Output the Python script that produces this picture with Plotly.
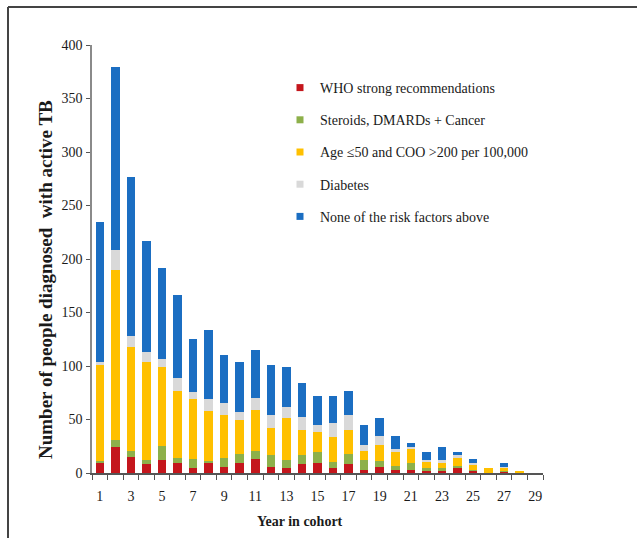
import plotly.graph_objects as go

# Year in cohort
years = list(range(1, 30))

# Number of people diagnosed with active TB, by risk group (stacked bottom to top)
who_strong = [10, 24, 15, 8, 12, 9, 5, 9, 6, 9, 13, 6, 5, 8, 9, 5, 8, 3, 6, 3, 3, 2, 2, 5, 2, 0, 1, 0, 0]
steroids_dmards_cancer = [1, 7, 6, 4, 13, 5, 8, 2, 8, 9, 8, 11, 7, 9, 11, 5, 10, 9, 5, 4, 6, 3, 3, 2, 1, 0, 1, 0, 0]
age_coo = [90, 159, 97, 92, 74, 63, 56, 47, 40, 32, 38, 25, 39, 23, 18, 24, 22, 9, 15, 13, 13, 5, 4, 7, 5, 5, 3, 2, 0]
diabetes = [3, 18, 10, 9, 8, 12, 7, 11, 11, 7, 11, 12, 11, 12, 7, 13, 14, 5, 9, 2, 2, 2, 3, 3, 1, 0, 1, 0, 0]
none_above = [131, 171, 149, 104, 85, 77, 49, 65, 45, 47, 45, 47, 37, 32, 27, 25, 23, 19, 16, 13, 4, 8, 12, 3, 4, 0, 3, 0, 0]

y_ticks = [0, 50, 100, 150, 200, 250, 300, 350, 400]
x_ticks = list(range(1, 30, 2))

series = [
    ("WHO strong recommendations", who_strong, "#C4161C"),
    ("Steroids, DMARDs + Cancer", steroids_dmards_cancer, "#8DB04A"),
    ("Age \u226450 and COO >200 per 100,000", age_coo, "#FFC000"),
    ("Diabetes", diabetes, "#D9D9D9"),
    ("None of the risk factors above", none_above, "#1B6EC2"),
]

SERIF = "Liberation Serif, Times New Roman, serif"

fig = go.Figure()
for name, vals, color in series:
    fig.add_trace(go.Bar(
        x=years, y=vals, name=name, marker=dict(color=color, line=dict(width=0)),
        showlegend=False,
    ))
# compact square swatches for the legend
for name, vals, color in series:
    fig.add_trace(go.Scatter(
        x=[None], y=[None], mode="markers", name=name, legendgroup=name,
        marker=dict(symbol="square", size=7, color=color),
    ))

W, H = 637, 538
ML, MR, MT, MB = 92, 94, 45, 65
pw, ph = W - ML - MR, H - MT - MB

def px_x(p):
    return (p - ML) / pw

def px_y(p):
    return (H - MB - p) / ph

fig.update_layout(
    width=W, height=H,
    margin=dict(l=ML, r=MR, t=MT, b=MB, pad=0),
    paper_bgcolor="white", plot_bgcolor="white",
    barmode="stack", bargap=0.45,
    font=dict(family=SERIF, size=14, color="#1a1a1a"),
    legend=dict(
        x=px_x(280), y=px_y(72), xanchor="left", yanchor="top",
        traceorder="grouped", tracegroupgap=11, itemwidth=30,
        font=dict(family=SERIF, size=14, color="#1a1a1a"),
        bgcolor="rgba(0,0,0,0)",
    ),
    xaxis=dict(
        range=[0.5, 29.5], tickvals=x_ticks, ticktext=[str(v) for v in x_ticks],
        ticks="", showgrid=False, zeroline=False,
        showline=True, linecolor="#555555", linewidth=1.5,
        minor=dict(ticks="outside", tick0=0.5, dtick=1, ticklen=5, tickcolor="#555555", tickwidth=1, showgrid=False),
        tickfont=dict(family=SERIF, size=14, color="#1a1a1a"),
        ticklabelstandoff=9,
    ),
    yaxis=dict(
        range=[0, 400], tickvals=y_ticks, showgrid=False, zeroline=False,
        showline=True, linecolor="#8a8a8a", linewidth=1.5,
        ticks="outside", ticklen=4, tickcolor="#555555",
        tickfont=dict(family=SERIF, size=14, color="#1a1a1a"),
        ticklabelstandoff=1,
    ),
    annotations=[
        dict(text="<b>Number of people diagnosed \u00a0with active TB</b>", textangle=-90,
             xref="paper", yref="paper", x=px_x(45), y=px_y(280),
             xanchor="center", yanchor="middle", showarrow=False,
             font=dict(family=SERIF, size=19, color="#1a1a1a")),
        dict(text="<b>Year in cohort</b>",
             xref="paper", yref="paper", x=px_x(300), y=px_y(521),
             xanchor="center", yanchor="middle", showarrow=False,
             font=dict(family=SERIF, size=14, color="#1a1a1a")),
    ],
    shapes=[
        dict(type="line", xref="paper", yref="paper", x0=px_x(8), x1=px_x(W), y0=px_y(7), y1=px_y(7),
             line=dict(color="#444444", width=2)),
        dict(type="line", xref="paper", yref="paper", x0=px_x(8), x1=px_x(8), y0=px_y(7), y1=px_y(H),
             line=dict(color="#444444", width=2)),
    ],
)

fig.write_html("out.html")
